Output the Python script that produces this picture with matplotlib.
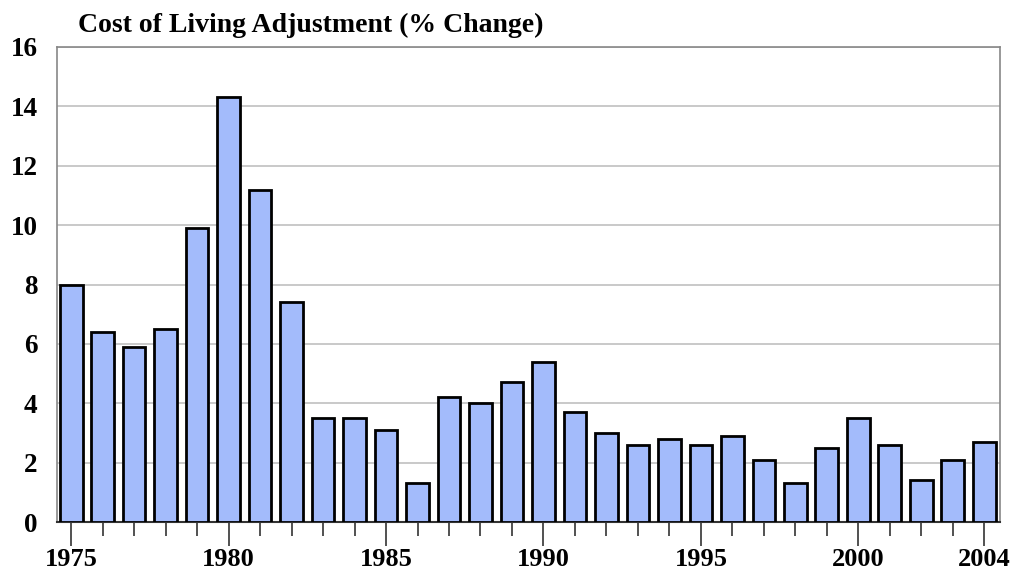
import matplotlib
matplotlib.use("Agg")
import matplotlib.pyplot as plt
from matplotlib.ticker import MultipleLocator, FixedLocator

years = list(range(1975, 2005))
cola = [8.0, 6.4, 5.9, 6.5, 9.9, 14.3, 11.2, 7.4, 3.5, 3.5, 3.1, 1.3, 4.2, 4.0, 4.7,
        5.4, 3.7, 3.0, 2.6, 2.8, 2.6, 2.9, 2.1, 1.3, 2.5, 3.5, 2.6, 1.4, 2.1, 2.7]
major_years = [1975, 1980, 1985, 1990, 1995, 2000, 2004]
title = "Cost of Living Adjustment (% Change)"

plt.rcParams['font.family'] = ['Liberation Serif', 'DejaVu Serif']
fig = plt.figure(figsize=(10.1, 5.75), dpi=100)
ax = fig.add_axes([57/1010, 1 - 522/575, (1000-57)/1010, (522-47)/575])

ax.bar(years, cola, width=0.72, color='#a3bbfb', edgecolor='black', linewidth=2, zorder=3)
ax.set_xlim(1974.55, 2004.5)
ax.set_ylim(0, 16)
ax.yaxis.set_major_locator(MultipleLocator(2))
ax.grid(axis='y', color='#c0c0c0', linewidth=1.2, zorder=0)
ax.xaxis.set_major_locator(FixedLocator(major_years))
ax.xaxis.set_minor_locator(FixedLocator([y for y in years if y not in major_years]))
ax.tick_params(axis='x', which='major', length=17, width=1.2, color='#333333', pad=2,
               labelsize=19)
ax.tick_params(axis='x', which='minor', length=10, width=1.2, color='#333333')
ax.tick_params(axis='y', length=0, pad=14, labelsize=19.5)
for lab in ax.get_xticklabels() + ax.get_yticklabels():
    lab.set_fontweight('bold')
for s in ['top', 'right', 'left']:
    ax.spines[s].set_color('#888888')
    ax.spines[s].set_linewidth(1.2)
ax.spines['bottom'].set_color('#333333')
ax.spines['bottom'].set_linewidth(1.5)

fig.text(78/1010, 1 - 25/575, title, fontsize=20, fontweight='bold', va='center', ha='left')
fig.savefig('out.png', dpi=100)
